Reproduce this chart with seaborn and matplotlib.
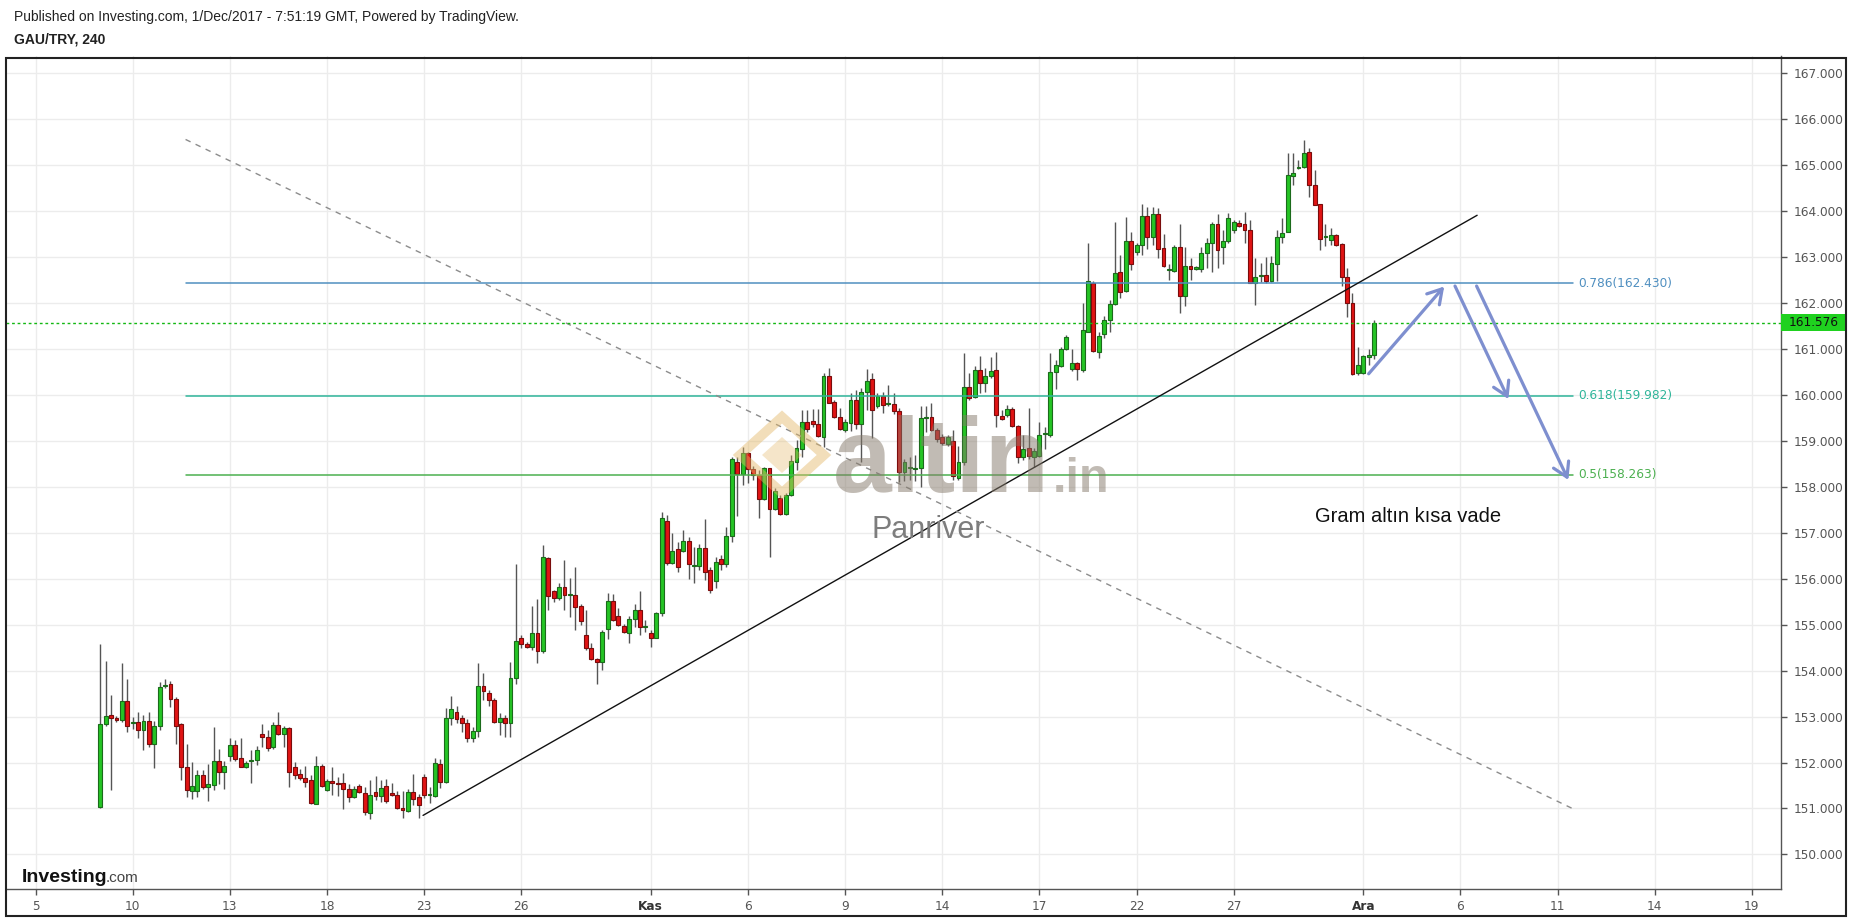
import matplotlib
matplotlib.use("Agg")
import matplotlib.pyplot as plt
from matplotlib.patches import Rectangle, Polygon
import seaborn as sns
import numpy as np
import pandas as pd

# ---------------- data (GAU/TRY, 4h candles) ----------------
opens = [
    151.04, 152.84, 153.04, 152.97, 152.93, 153.33, 152.85, 152.88, 152.71, 152.91,
    152.41, 152.80, 153.66, 153.70, 153.38, 152.83, 151.91, 151.39, 151.39, 151.73,
    151.46, 151.51, 152.04, 151.80, 152.14, 152.39, 152.10, 151.91, 152.03, 152.06,
    152.62, 152.55, 152.33, 152.82, 152.62, 152.75, 151.91, 151.74, 151.67, 151.61,
    151.10, 151.93, 151.41, 151.59, 151.56, 151.56, 151.43, 151.25, 151.48, 151.33,
    150.90, 151.36, 151.27, 151.48, 151.34, 151.30, 151.01, 150.94, 151.36, 151.24,
    151.68, 151.29, 151.27, 151.96, 151.58, 152.96, 153.11, 152.96, 152.87, 152.53,
    152.69, 153.67, 153.52, 153.36, 152.89, 152.98, 152.85, 153.85, 154.72, 154.58,
    154.51, 154.83, 154.43, 156.45, 155.73, 155.59, 155.81, 155.64, 155.64, 155.41,
    154.78, 154.49, 154.25, 154.19, 154.90, 155.52, 155.20, 154.97, 154.83, 155.12,
    155.32, 154.94, 154.83, 154.72, 155.26, 157.25, 156.35, 156.64, 156.61, 156.83,
    156.28, 156.28, 156.66, 156.19, 155.94, 156.42, 156.32, 156.93, 158.53, 158.28,
    158.74, 158.38, 158.26, 157.73, 158.40, 157.51, 157.75, 157.41, 157.82, 158.55,
    158.82, 159.42, 159.44, 159.37, 159.08, 160.41, 159.85, 159.51, 159.24, 159.40,
    159.89, 159.36, 160.06, 160.34, 159.75, 159.98, 159.81, 159.80, 159.66, 158.32,
    158.40, 158.38, 158.40, 159.49, 159.53, 159.24, 159.09, 158.93, 159.00, 158.19,
    158.53, 160.18, 159.96, 160.54, 160.27, 160.41, 160.54, 159.55, 159.56, 159.69,
    159.32, 158.64, 158.84, 158.66, 158.67, 159.14, 159.13, 160.49, 160.63, 160.99,
    160.56, 160.69, 160.54, 161.38, 162.44, 160.94, 161.33, 161.62, 161.97, 162.68,
    162.27, 163.34, 163.12, 163.26, 163.89, 163.43, 163.94, 163.19, 162.72, 162.70,
    163.21, 162.15, 162.81, 162.75, 162.75, 163.08, 163.30, 163.73, 163.23, 163.34,
    163.58, 163.74, 163.72, 163.58, 162.43, 162.58, 162.61, 162.49, 162.86, 163.44,
    163.55, 164.77, 164.94, 164.95, 165.29, 164.57, 164.15, 163.44, 163.37, 163.47,
    163.28, 162.57, 161.99, 160.47, 160.48, 160.83, 160.88,
]
highs = [
    154.57, 154.20, 153.46, 153.02, 154.16, 153.82, 153.00, 153.09, 153.04, 153.09,
    152.91, 153.75, 153.82, 153.77, 153.42, 152.85, 152.41, 152.01, 151.83, 151.83,
    151.96, 152.78, 152.30, 152.04, 152.53, 152.48, 152.54, 152.04, 152.28, 152.37,
    152.84, 152.71, 152.89, 153.11, 152.80, 152.78, 152.01, 151.86, 151.93, 151.72,
    152.15, 151.96, 151.64, 151.91, 151.68, 151.77, 151.54, 151.49, 151.53, 151.46,
    151.61, 151.70, 151.62, 151.64, 151.55, 151.38, 151.38, 151.43, 151.74, 151.31,
    151.75, 151.46, 152.09, 152.07, 153.18, 153.45, 153.23, 153.03, 152.94, 152.78,
    154.17, 153.94, 153.58, 153.40, 153.08, 153.04, 154.19, 156.33, 154.78, 154.63,
    155.41, 155.56, 156.73, 156.47, 155.76, 155.90, 156.41, 156.01, 156.26, 155.46,
    155.32, 154.61, 154.27, 154.88, 155.68, 155.67, 155.36, 155.02, 155.18, 155.46,
    155.73, 155.10, 154.89, 155.28, 157.45, 157.38, 157.00, 156.80, 157.06, 156.90,
    156.68, 156.75, 157.29, 156.25, 156.47, 156.52, 157.13, 158.66, 158.66, 158.86,
    158.76, 158.45, 158.37, 158.44, 158.42, 157.97, 157.82, 157.86, 158.69, 159.02,
    159.67, 159.67, 159.69, 159.69, 160.47, 160.58, 159.90, 159.71, 159.47, 160.04,
    160.11, 160.15, 160.56, 160.48, 160.04, 160.07, 160.22, 160.04, 159.71, 158.60,
    158.65, 158.70, 159.75, 159.75, 159.82, 159.28, 159.15, 159.12, 159.24, 158.89,
    160.91, 160.47, 160.62, 160.85, 160.58, 160.82, 160.94, 159.67, 159.78, 159.73,
    159.34, 159.13, 159.71, 158.85, 159.42, 159.31, 160.91, 160.76, 161.05, 161.31,
    160.99, 160.72, 161.99, 163.30, 162.49, 161.36, 161.72, 162.07, 163.77, 163.05,
    163.88, 163.55, 163.30, 164.15, 164.08, 164.10, 164.06, 163.50, 162.86, 163.26,
    163.73, 163.23, 162.97, 162.80, 163.23, 163.41, 163.77, 163.94, 163.59, 163.95,
    163.81, 163.80, 163.99, 163.81, 162.97, 162.88, 163.01, 163.02, 163.60, 163.84,
    165.26, 165.26, 165.11, 165.55, 165.37, 164.90, 164.15, 163.73, 163.63, 163.50,
    163.30, 162.76, 162.21, 161.05, 160.87, 161.01, 161.63,
]
lows = [
    151.00, 152.80, 151.41, 152.88, 152.88, 152.66, 152.72, 152.54, 152.28, 152.33,
    151.88, 152.70, 153.63, 153.20, 152.41, 151.62, 151.25, 151.21, 151.25, 151.43,
    151.17, 151.41, 151.54, 151.43, 152.04, 152.04, 151.90, 151.89, 151.55, 151.95,
    152.33, 152.26, 152.30, 152.59, 152.33, 151.46, 151.64, 151.62, 151.46, 151.10,
    151.09, 151.46, 151.38, 151.30, 151.28, 150.99, 151.14, 151.22, 151.33, 150.85,
    150.78, 151.18, 151.14, 151.12, 151.27, 150.99, 150.80, 150.92, 151.07, 150.79,
    151.22, 151.11, 151.25, 151.45, 151.55, 152.82, 152.85, 152.67, 152.45, 152.45,
    152.55, 153.36, 153.22, 152.85, 152.60, 152.55, 152.55, 153.72, 154.49, 154.49,
    154.45, 154.17, 154.39, 155.32, 155.50, 155.54, 155.32, 155.17, 154.88, 154.99,
    154.45, 154.23, 153.71, 154.01, 154.68, 155.07, 154.97, 154.83, 154.61, 154.96,
    154.78, 154.85, 154.51, 154.70, 155.20, 156.30, 156.33, 156.15, 156.58, 156.00,
    155.90, 156.20, 155.97, 155.70, 155.80, 156.19, 156.25, 156.79, 157.37, 158.04,
    158.09, 158.15, 157.32, 157.71, 156.47, 157.49, 157.39, 157.39, 157.79, 158.37,
    158.66, 159.20, 159.31, 159.09, 158.87, 159.82, 159.49, 159.24, 159.20, 159.22,
    159.25, 158.55, 159.67, 159.06, 159.71, 159.60, 159.75, 159.59, 158.11, 158.13,
    158.15, 158.13, 158.00, 159.20, 159.22, 158.98, 158.90, 158.88, 158.15, 158.15,
    158.48, 159.89, 159.93, 160.04, 160.07, 160.36, 159.31, 159.45, 159.53, 159.30,
    158.51, 158.58, 158.60, 158.44, 158.66, 158.82, 159.09, 160.14, 160.61, 160.98,
    160.53, 160.33, 160.49, 161.38, 160.94, 160.80, 161.23, 161.38, 161.96, 162.12,
    162.25, 162.72, 163.05, 163.05, 163.17, 163.26, 162.97, 162.78, 162.50, 162.68,
    161.78, 161.93, 162.50, 162.72, 162.68, 162.76, 162.68, 162.76, 162.86, 163.30,
    163.53, 163.65, 163.30, 162.43, 161.96, 162.46, 162.44, 162.46, 162.48, 163.30,
    163.55, 164.57, 164.91, 164.93, 164.31, 164.13, 163.15, 163.24, 163.26, 163.24,
    162.36, 161.70, 160.44, 160.44, 160.46, 160.65, 160.78,
]
closes = [
    152.84, 153.01, 152.97, 152.93, 153.33, 152.80, 152.86, 152.71, 152.91, 152.41,
    152.80, 153.65, 153.69, 153.38, 152.80, 151.91, 151.41, 151.48, 151.73, 151.46,
    151.54, 152.04, 151.80, 151.93, 152.39, 152.08, 151.91, 151.99, 152.05, 152.28,
    152.55, 152.32, 152.82, 152.62, 152.75, 151.79, 151.73, 151.67, 151.57, 151.12,
    151.93, 151.50, 151.59, 151.56, 151.54, 151.43, 151.25, 151.43, 151.36, 150.92,
    151.30, 151.27, 151.45, 151.16, 151.29, 151.01, 150.96, 151.36, 151.21, 151.08,
    151.29, 151.30, 151.98, 151.58, 152.96, 153.16, 152.95, 152.87, 152.53, 152.69,
    153.67, 153.56, 153.36, 152.89, 152.98, 152.85, 153.85, 154.65, 154.57, 154.51,
    154.83, 154.43, 156.47, 155.62, 155.57, 155.81, 155.64, 155.65, 155.39, 155.07,
    154.49, 154.25, 154.19, 154.85, 155.52, 155.10, 154.99, 154.85, 155.12, 155.33,
    154.94, 154.95, 154.72, 155.26, 157.33, 156.35, 156.61, 156.25, 156.83, 156.31,
    156.29, 156.66, 156.15, 155.76, 156.37, 156.32, 156.93, 158.60, 158.28, 158.73,
    158.38, 158.26, 157.73, 158.40, 157.51, 157.91, 157.41, 157.82, 158.56, 158.84,
    159.42, 159.25, 159.37, 159.11, 160.41, 159.83, 159.51, 159.25, 159.42, 159.89,
    159.36, 160.06, 160.31, 159.67, 159.98, 159.78, 159.83, 159.66, 158.33, 158.53,
    158.42, 158.42, 159.49, 159.52, 159.24, 159.05, 158.96, 159.08, 158.24, 158.53,
    160.18, 159.93, 160.54, 160.25, 160.41, 160.52, 159.56, 159.47, 159.69, 159.32,
    158.64, 158.82, 158.67, 158.77, 159.13, 159.16, 160.51, 160.65, 161.01, 161.27,
    160.69, 160.56, 161.41, 162.49, 160.96, 161.28, 161.62, 161.97, 162.65, 162.25,
    163.34, 162.85, 163.26, 163.89, 163.43, 163.94, 163.17, 162.81, 162.73, 163.23,
    162.15, 162.81, 162.75, 162.77, 163.08, 163.30, 163.73, 163.15, 163.34, 163.86,
    163.76, 163.68, 163.58, 162.44, 162.56, 162.59, 162.47, 162.88, 163.44, 163.52,
    164.79, 164.84, 164.96, 165.26, 164.57, 164.13, 163.39, 163.45, 163.47, 163.26,
    162.57, 161.99, 160.46, 160.65, 160.85, 160.88, 161.576,
]
last_price = 161.576

# date ticks (bar index of each day label)
tick_idx = [-12, 6, 24, 42, 60, 78, 102, 120, 138, 156, 174, 192, 210, 234, 252, 270, 288, 306]
tick_labels = ["5", "10", "13", "18", "23", "26", "Kas", "6", "9", "14", "17", "22", "27",
               "Ara", "6", "11", "14", "19"]
price_ticks = list(range(150, 168))

# fibonacci levels
fib_ratios = ["0.786", "0.618", "0.5"]
fib_levels = [162.430, 159.982, 158.263]
fib_colors = ["#4f8fc0", "#2fb59a", "#4cb050"]
fib_x = [15.8, 272.8]
fib_label_x = 273.9

# drawings
trend_x = [59.8, 255.1]
trend_y = [150.85, 163.91]
dash_x = [15.8, 273.1]
dash_y = [165.56, 150.98]
arrows = [((235.0, 160.46), (249.0, 162.36)),
          ((251.0, 162.37), (260.9, 159.91)),
          ((255.0, 162.37), (272.0, 158.15))]

# ---------------- figure ----------------
sns.set_theme(style="white")
plt.rcParams['font.family'] = ['DejaVu Sans']

W, H = 1853, 918
fig = plt.figure(figsize=(W / 100, H / 100), dpi=100)
fig.patch.set_facecolor("white")
ax = fig.add_axes([6 / W, 1 - 889 / H, (1781 - 6) / W, (889 - 55.5) / H])
ax.set_facecolor("white")

n = min(len(opens), len(highs), len(lows), len(closes))
df = pd.DataFrame({"idx": np.arange(n), "open": opens[:n], "high": highs[:n],
                   "low": lows[:n], "close": closes[:n]})
df["high"] = df[["high", "open", "close"]].max(axis=1)
df["low"] = df[["low", "open", "close"]].min(axis=1)
df["bottom"] = df[["open", "close"]].min(axis=1)
df["height"] = (df["close"] - df["open"]).abs().clip(lower=0.025)
up = df["close"] >= df["open"]

ax.vlines(df["idx"], df["low"], df["high"], color="#555555", lw=1, zorder=2)
ax.bar(df.loc[up, "idx"], df.loc[up, "height"], bottom=df.loc[up, "bottom"], width=0.72,
       color="#25c425", edgecolor="#1b6b1b", linewidth=0.8, zorder=3)
ax.bar(df.loc[~up, "idx"], df.loc[~up, "height"], bottom=df.loc[~up, "bottom"], width=0.72,
       color="#e01414", edgecolor="#7a0c0c", linewidth=0.8, zorder=3)

# fib lines
for r, v, c in zip(fib_ratios, fib_levels, fib_colors):
    sns.lineplot(x=fib_x, y=[v, v], color=c, lw=1.1, ax=ax, zorder=4)
    ax.text(fib_label_x, v, f"{r}({v:.3f})", color=c, fontsize=8.7, va="center", ha="left",
            family=["DejaVu Sans"], zorder=6)

# trend line & dashed line
sns.lineplot(x=trend_x, y=trend_y, color="#111111", lw=1.0, ax=ax, zorder=4)
ax.plot(dash_x, dash_y, color="#8c8c8c", lw=1.0, dashes=(4, 4), zorder=4)

# current price dotted line
ax.axhline(last_price, color="#13b813", lw=1.0, ls=(0, (2, 2)), zorder=4)

# arrows
for (x0, y0), (x1, y1) in arrows:
    ax.annotate("", xy=(x1, y1), xytext=(x0, y0),
                arrowprops=dict(arrowstyle="->,head_length=0.5,head_width=0.3",
                                color="#7e8fcf", lw=2.3, shrinkA=0, shrinkB=0,
                                mutation_scale=20), zorder=5)

# axes styling
ax.set_xlim(-17.47, 311.4)
ax.set_ylim(149.248, 167.387)
ax.set_yticks(price_ticks)
ax.set_yticklabels([f"{v:.3f}" for v in price_ticks])
ax.set_xticks(tick_idx)
ax.set_xticklabels(tick_labels)
ax.yaxis.tick_right()
ax.grid(True, color="#ececec", lw=1, zorder=0)
ax.set_axisbelow(True)
for s in ["top", "left"]:
    ax.spines[s].set_visible(False)
for s in ["right", "bottom"]:
    ax.spines[s].set_visible(True)
    ax.spines[s].set_color("#555555")
    ax.spines[s].set_linewidth(1.0)
ax.tick_params(axis="y", which="both", right=True, left=False, direction="out", length=4,
               width=1, color="#555555", pad=5, labelsize=8.7, labelcolor="#555555")
ax.tick_params(axis="x", which="both", bottom=True, direction="out", length=4, width=1,
               color="#555555", pad=4, labelsize=8.7, labelcolor="#555555")
for lab in ax.get_xticklabels():
    if lab.get_text() in ("Kas", "Ara"):
        lab.set_fontweight("bold")
        lab.set_color("#333333")

# last price label on the axis
fig.patches.append(Rectangle((1781 / W, 1 - 331 / H), 64 / W, 17 / H, transform=fig.transFigure,
                             facecolor="#1fd11f", edgecolor="none", zorder=10))
fig.text(1789 / W, 1 - 322.5 / H, f"{last_price:.3f}", fontsize=8.7, color="#111111",
         va="center", ha="left", zorder=11)

# outer frame
fig.patches.append(Rectangle((6 / W, 2 / H), (1846 - 6) / W, (916 - 55.5 - 2) / H,
                             transform=fig.transFigure, fill=False, edgecolor="#222222",
                             linewidth=1.5, zorder=12))

# watermark
logo_pts = [(740, 455), (782, 417), (824, 455), (782, 493)]
fig.patches.append(Polygon([(x / W, 1 - y / H) for x, y in logo_pts], closed=True,
                           transform=fig.transFigure, fill=False, edgecolor="#e3b766",
                           linewidth=7, alpha=0.45, zorder=7))
inner_pts = [(762, 455), (782, 437), (802, 455), (782, 473)]
fig.patches.append(Polygon([(x / W, 1 - y / H) for x, y in inner_pts], closed=True,
                           transform=fig.transFigure, facecolor="#e3b766", edgecolor="none",
                           alpha=0.35, zorder=7))
fig.text(833 / W, 1 - 492 / H, "altin", fontsize=76, fontweight="bold", color="#85796a",
         alpha=0.5, family=["Liberation Sans"], va="baseline", ha="left", zorder=8)
fig.text(1053 / W, 1 - 492 / H, ".in", fontsize=35, fontweight="bold", color="#85796a",
         alpha=0.5, family=["Liberation Sans"], va="baseline", ha="left", zorder=8)
fig.text(871 / W, 1 - 530 / H, "Panriver", fontsize=22, color="#7d7d7d",
         family=["Liberation Sans"], va="center", ha="left", zorder=8)

# annotation text
fig.text(1315 / W, 1 - 516 / H, "Gram altın kısa vade", fontsize=14.5, color="#111111",
         family=["Liberation Sans"], va="center", ha="left", zorder=8)

# header
fig.text(14 / W, 1 - 16.5 / H, "Published on Investing.com, 1/Dec/2017 - 7:51:19 GMT, Powered by TradingView.",
         fontsize=10, color="#222222", family=["Liberation Sans"], va="center", ha="left")
fig.text(14 / W, 1 - 39 / H, "GAU/TRY, 240", fontsize=10, fontweight="bold", color="#222222",
         family=["Liberation Sans"], va="center", ha="left")

# Investing.com logo
fig.text(22 / W, 1 - 882 / H, "Investing", fontsize=14, fontweight="bold", color="#111111",
         family=["Liberation Sans"], va="baseline", ha="left", zorder=9)
fig.text(106 / W, 1 - 882 / H, ".com", fontsize=11, color="#444444",
         family=["Liberation Sans"], va="baseline", ha="left", zorder=9)

fig.savefig("out.png", dpi=100, facecolor="white")
